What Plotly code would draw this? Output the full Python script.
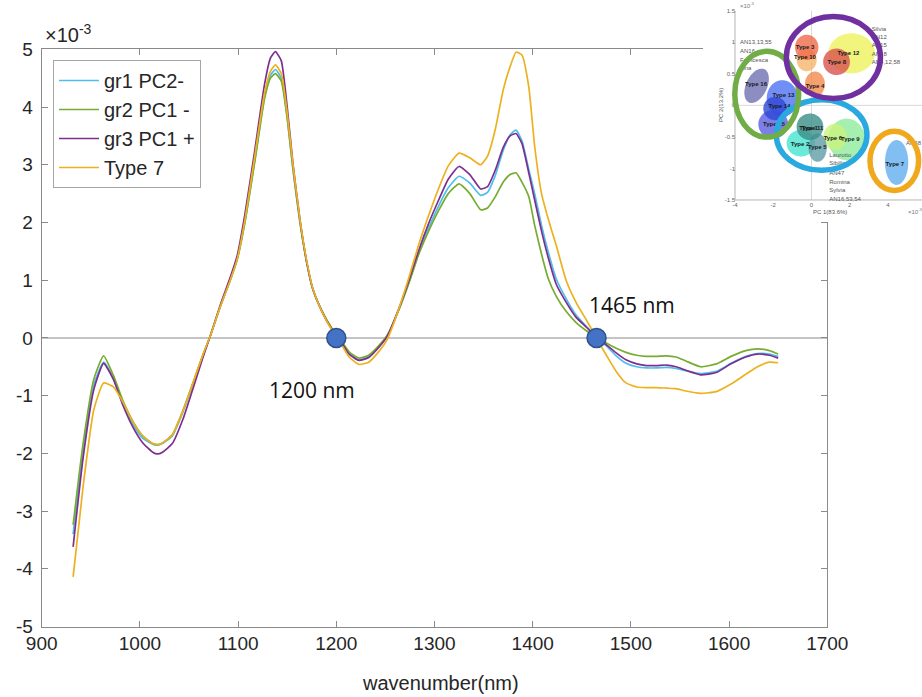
import numpy as np
import plotly.graph_objects as go

# ---------------------------------------------------------------------------
# Second-derivative NIR spectra (values in units of 10^-3)
# ---------------------------------------------------------------------------
wavelength_nm = [932, 942, 953, 963, 973, 983, 993, 1003, 1013, 1018, 1023, 1033,
                 1044, 1054, 1064, 1072, 1082, 1092, 1099, 1107, 1117, 1127, 1133,
                 1138, 1144, 1150, 1156, 1163, 1170, 1176, 1185, 1195, 1203, 1213,
                 1223, 1233, 1244, 1252, 1264, 1274, 1284, 1294, 1304, 1314, 1325,
                 1336, 1347, 1354, 1362, 1370, 1377, 1383, 1389, 1396, 1402, 1409,
                 1416, 1424, 1434, 1444, 1455, 1465, 1475, 1485, 1495, 1506, 1516,
                 1526, 1536, 1546, 1556, 1571, 1587, 1602, 1617, 1629, 1641, 1650]

gr1_pc2_neg = [-3.40, -1.98, -0.82, -0.42, -0.70, -1.15, -1.50, -1.74, -1.84, -1.86, -1.83, -1.70,
               -1.28, -0.80, -0.31, 0.05, 0.55, 1.00, 1.36, 2.02, 3.08, 4.18, 4.55,
               4.65, 4.50, 3.82, 2.92, 2.00, 1.30, 0.85, 0.48, 0.17, -0.01, -0.26,
               -0.38, -0.33, -0.14, 0.04, 0.50, 0.97, 1.48, 1.90, 2.28, 2.60, 2.80,
               2.68, 2.47, 2.52, 2.82, 3.25, 3.52, 3.60, 3.42, 2.92, 2.50, 1.95,
               1.48, 1.02, 0.68, 0.40, 0.19, 0.01, -0.14, -0.31, -0.44, -0.50, -0.52,
               -0.52, -0.51, -0.53, -0.57, -0.62, -0.58, -0.44, -0.32, -0.27, -0.28, -0.32]

gr2_pc1_neg = [-3.24, -1.85, -0.72, -0.31, -0.65, -1.10, -1.45, -1.70, -1.83, -1.85, -1.82, -1.68,
               -1.25, -0.78, -0.30, 0.05, 0.55, 1.00, 1.35, 2.00, 3.05, 4.15, 4.50,
               4.58, 4.45, 3.80, 2.90, 2.00, 1.30, 0.85, 0.48, 0.18, 0.00, -0.24,
               -0.35, -0.30, -0.12, 0.05, 0.50, 0.95, 1.45, 1.85, 2.20, 2.50, 2.67,
               2.50, 2.22, 2.25, 2.45, 2.70, 2.83, 2.86, 2.70, 2.45, 1.95, 1.45,
               1.02, 0.72, 0.46, 0.27, 0.12, 0.01, -0.09, -0.18, -0.25, -0.30, -0.32,
               -0.32, -0.31, -0.33, -0.40, -0.50, -0.45, -0.32, -0.22, -0.19, -0.22, -0.28]

gr3_pc1_pos = [-3.62, -2.10, -0.90, -0.44, -0.72, -1.18, -1.55, -1.82, -1.98, -2.01, -1.98, -1.83,
               -1.40, -0.88, -0.35, 0.05, 0.58, 1.05, 1.42, 2.15, 3.25, 4.40, 4.85,
               4.96, 4.80, 4.00, 3.00, 2.05, 1.30, 0.85, 0.47, 0.16, -0.02, -0.28,
               -0.39, -0.34, -0.15, 0.03, 0.52, 1.00, 1.52, 1.98, 2.38, 2.75, 2.97,
               2.83, 2.58, 2.62, 2.91, 3.30, 3.50, 3.54, 3.37, 2.86, 2.39, 1.85,
               1.38, 0.93, 0.62, 0.36, 0.18, 0.01, -0.12, -0.26, -0.38, -0.45, -0.48,
               -0.48, -0.47, -0.50, -0.56, -0.64, -0.60, -0.45, -0.33, -0.28, -0.30, -0.35]

type7 = [-4.14, -2.60, -1.25, -0.78, -0.85, -1.12, -1.46, -1.70, -1.83, -1.85, -1.82, -1.68,
         -1.26, -0.78, -0.30, 0.05, 0.55, 1.00, 1.36, 2.05, 3.15, 4.25, 4.62,
         4.73, 4.58, 3.90, 2.98, 2.05, 1.32, 0.86, 0.47, 0.15, -0.05, -0.33,
         -0.46, -0.42, -0.22, -0.02, 0.52, 1.05, 1.62, 2.12, 2.58, 2.98, 3.20,
         3.12, 3.00, 3.15, 3.62, 4.30, 4.70, 4.95, 4.90, 4.35, 3.32, 2.50,
         2.05, 1.60, 1.00, 0.62, 0.30, 0.00, -0.30, -0.58, -0.78, -0.85, -0.86,
         -0.86, -0.87, -0.88, -0.92, -0.96, -0.93, -0.80, -0.63, -0.50, -0.42, -0.43]

series_names = ["gr1 PC2-", "gr2 PC1 -", "gr3 PC1 +", "Type 7"]
series_values = [gr1_pc2_neg, gr2_pc1_neg, gr3_pc1_pos, type7]
series_colors = ["#4DBEEE", "#77AC30", "#7E2F8E", "#EDB120"]

# isosbestic-like crossing points
crossing_nm = [1200, 1465]
crossing_value = [0, 0]
crossing_labels = ["1200 nm", "1465 nm"]

x_tick_values = list(range(900, 1701, 100))
y_tick_values = list(range(-5, 6))

# ---------------------------------------------------------------------------
# PCA score map (inset): PC1 / PC2 scores, x10^-3
# ---------------------------------------------------------------------------
blob_names = ["Type 9", "Type 6", "Type 2", "Type 5", "Type 11", "Type 15", "Type 13",
              "Type 14", "Type 16", "Type 4", "Type 12", "Type 8", "Type 10", "Type 3", "Type 7"]
blob_cx = [1.84, 1.23, -0.56, 0.32, -0.08, -2.00, -1.53, -1.91, -2.87, 0.18, 2.10, 1.31, -0.25, -0.25, 4.45]
blob_cy = [-0.54, -0.50, -0.60, -0.67, -0.34, -0.30, 0.11, -0.05, 0.31, 0.336, 0.825, 0.69, 0.72, 0.92, -0.905]
blob_rx = [0.96, 0.61, 0.74, 0.48, 0.70, 0.78, 0.81, 0.61, 0.55, 0.52, 1.22, 0.70, 0.52, 0.61, 0.61]
blob_ry = [0.33, 0.21, 0.21, 0.225, 0.21, 0.225, 0.29, 0.185, 0.29, 0.20, 0.317, 0.21, 0.18, 0.20, 0.356]
blob_tilt = [0, 0, 0, 0, 0, 0, 0, 0, -25, 0, 0, 0, 0, 0, 0]
blob_colors = ["#8EEB9E", "#C9F27E", "#46E3CF", "#5E9FA6", "#3A8E8A", "#5D5FE2", "#4C72F2",
               "#2F47D6", "#6F70B2", "#F48A4C", "#EDF25E", "#D9534F", "#F8B56C", "#EF6A4A", "#62AFEF"]

label_text = ["Type 3", "Type 10", "Type 12", "Type 8", "Type 4", "Type 16", "Type 13", "Type 14",
              "Type 15", "Type 1", "Type 11", "Type 2", "Type 5", "Type 6", "Type 9", "Type 7"]
label_x = [-0.34, -0.34, 1.93, 1.32, 0.18, -2.90, -1.47, -1.68, -1.96, -0.15, 0.05, -0.60, 0.30, 1.12, 2.03, 4.36]
label_y = [0.92, 0.76, 0.824, 0.676, 0.296, 0.323, 0.164, -0.011, -0.296, -0.37, -0.37, -0.618, -0.670, -0.522, -0.549, -0.934]

sample_text = ["AN13,13,55", "AN16", "Francesca", "Tina",
               "Silvia", "AN12", "AN15", "AN18", "AN4,12,58",
               "Laurotto", "Sibilla", "AN47", "Romina", "Sylvia", "AN16,53,54",
               "AN48"]
sample_x = [-3.74] * 4 + [3.15] * 5 + [0.93] * 6 + [4.94]
sample_y = [0.993, 0.851, 0.718, 0.586,
            1.205, 1.078, 0.946, 0.808, 0.676,
            -0.797, -0.929, -1.077, -1.226, -1.352, -1.49,
            -0.612]

ring_cx = [0.53, -2.34, 1.145, 4.33]
ring_cy = [-0.47, 0.177, 0.758, -0.88]
ring_rx = [2.37, 1.67, 2.46, 1.27]
ring_ry = [0.56, 0.68, 0.65, 0.47]
ring_colors = ["#2AA9E0", "#70AD47", "#7030A0", "#F0A81C"]

inset_x_ticks = [-4, -2, 0, 2, 4]
inset_y_ticks = [-1.5, -1, -0.5, 0, 0.5, 1, 1.5]

# ---------------------------------------------------------------------------
W, H = 922, 697
main_xdom = [41.7 / W, 827.3 / W]
main_ydom = [1 - 626.5 / H, 1 - 49.3 / H]
ins_xdom = [703 / W, 1.0]
ins_ydom = [1 - 222 / H, 1.0]
ins_xrange = [-5.673, 5.778]
ins_yrange = [-1.849, 1.670]
ins_xscale = (ins_xdom[1] - ins_xdom[0]) * W / (ins_xrange[1] - ins_xrange[0])
ins_yscale = (ins_ydom[1] - ins_ydom[0]) * H / (ins_yrange[1] - ins_yrange[0])

AX_GRAY = "#8a8a8a"
TXT = "#262626"
FONT = "Liberation Sans, Arial, sans-serif"

fig = go.Figure()

for name, vals, col in zip(series_names, series_values, series_colors):
    fig.add_trace(go.Scatter(
        x=wavelength_nm, y=vals, name=name, mode="lines",
        line=dict(color=col, width=1.7, shape="spline", smoothing=0.5),
        xaxis="x", yaxis="y",
    ))

fig.add_trace(go.Scatter(
    x=crossing_nm, y=crossing_value, mode="markers", showlegend=False,
    marker=dict(size=19, color="#4472C4", line=dict(color="#2F528F", width=1.5)),
    xaxis="x", yaxis="y", cliponaxis=False,
))

# inset text layers
fig.add_trace(go.Scatter(
    x=sample_x, y=sample_y, text=sample_text, mode="text", textposition="middle right",
    textfont=dict(size=6, color="#555555", family=FONT), showlegend=False,
    xaxis="x2", yaxis="y2", hoverinfo="skip",
))
fig.add_trace(go.Scatter(
    x=label_x, y=label_y, text=["<b>%s</b>" % t for t in label_text], mode="text",
    textposition="middle center",
    textfont=dict(size=6, color="#1a1a1a", family=FONT), showlegend=False,
    xaxis="x2", yaxis="y2", hoverinfo="skip",
))


def ellipse_path(cx, cy, rx, ry, tilt_deg, n=60):
    """Closed SVG path for an ellipse drawn in screen space, expressed in inset data units."""
    t = np.linspace(0, 2 * np.pi, n)
    a = rx * ins_xscale
    b = ry * ins_yscale
    th = np.deg2rad(tilt_deg)
    px = a * np.cos(t) * np.cos(th) - b * np.sin(t) * np.sin(th)
    py = a * np.cos(t) * np.sin(th) + b * np.sin(t) * np.cos(th)
    xs = cx + px / ins_xscale
    ys = cy + py / ins_yscale
    pts = ["%.4f,%.4f" % (x, y) for x, y in zip(xs, ys)]
    return "M" + " L".join(pts) + " Z"


shapes = []
# inset axis frame and zero lines
shapes.append(dict(type="line", xref="x2", yref="y2", x0=-4, x1=ins_xrange[1], y0=0, y1=0,
                   line=dict(color="#d8d8d8", width=1), layer="below"))
shapes.append(dict(type="line", xref="x2", yref="y2", x0=0, x1=0, y0=-1.5, y1=1.5,
                   line=dict(color="#d8d8d8", width=1), layer="below"))
shapes.append(dict(type="line", xref="x2", yref="y2", x0=-4, x1=-4, y0=-1.5, y1=1.5,
                   line=dict(color="#b5b5b5", width=1), layer="below"))
shapes.append(dict(type="line", xref="x2", yref="y2", x0=-4, x1=ins_xrange[1], y0=-1.5, y1=-1.5,
                   line=dict(color="#b5b5b5", width=1), layer="below"))

for cx, cy, rx, ry, tl, col in zip(blob_cx, blob_cy, blob_rx, blob_ry, blob_tilt, blob_colors):
    shapes.append(dict(type="path", xref="x2", yref="y2", path=ellipse_path(cx, cy, rx, ry, tl),
                       fillcolor=col, opacity=0.8, line=dict(width=0), layer="below"))

for cx, cy, rx, ry, col in zip(ring_cx, ring_cy, ring_rx, ring_ry, ring_colors):
    shapes.append(dict(type="circle", xref="x2", yref="y2", x0=cx - rx, x1=cx + rx,
                       y0=cy - ry, y1=cy + ry, line=dict(color=col, width=5.5),
                       fillcolor="rgba(0,0,0,0)", layer="above"))

annotations = [
    dict(xref="paper", yref="paper", x=43 / W, y=1 - 33 / H, xanchor="left", yanchor="middle",
         text="×10<sup>-3</sup>", showarrow=False, font=dict(size=20, color=TXT, family=FONT)),
    dict(xref="paper", yref="paper", x=440 / W, y=1 - 683 / H, xanchor="center", yanchor="middle",
         text="wavenumber(nm)", showarrow=False, font=dict(size=20, color=TXT, family=FONT)),
    dict(xref="x", yref="y", x=crossing_nm[0], y=crossing_value[0], xshift=-24, yshift=-52,
         text=crossing_labels[0], showarrow=False, font=dict(size=21, color="#111111", family="Open Sans")),
    dict(xref="x", yref="y", x=crossing_nm[1], y=crossing_value[1], xshift=35, yshift=33,
         text=crossing_labels[1], showarrow=False, font=dict(size=21, color="#111111", family="Open Sans")),
    # inset axis captions
    dict(xref="paper", yref="paper", x=830 / W, y=1 - 212 / H, xanchor="center", yanchor="middle",
         text="PC 1(83.6%)", showarrow=False, font=dict(size=6, color="#555555", family=FONT)),
    dict(xref="paper", yref="paper", x=721 / W, y=1 - 105 / H, xanchor="center", yanchor="middle",
         text="PC 2(13.2%)", textangle=-90, showarrow=False, font=dict(size=6, color="#555555", family=FONT)),
    dict(xref="paper", yref="paper", x=738 / W, y=1 - 5 / H, xanchor="left", yanchor="middle",
         text="×10<sup>-3</sup>", showarrow=False, font=dict(size=6, color="#777777", family=FONT)),
    dict(xref="paper", yref="paper", x=906 / W, y=1 - 211 / H, xanchor="left", yanchor="middle",
         text="×10<sup>-3</sup>", showarrow=False, font=dict(size=6, color="#777777", family=FONT)),
]

fig.update_layout(
    width=W, height=H,
    margin=dict(l=0, r=0, t=0, b=0, autoexpand=False),
    paper_bgcolor="white", plot_bgcolor="white",
    font=dict(family=FONT, color=TXT),
    showlegend=True,
    legend=dict(
        x=53 / W, y=1 - 60 / H, xanchor="left", yanchor="top",
        bgcolor="white", bordercolor="#a6a6a6", borderwidth=1,
        font=dict(size=20, color=TXT, family=FONT), itemwidth=40,
        tracegroupgap=0,
    ),
    xaxis=dict(
        domain=main_xdom, range=[900, 1700], tickvals=x_tick_values,
        ticktext=[str(v) for v in x_tick_values],
        ticks="inside", ticklen=6, tickcolor=AX_GRAY, showline=True, linecolor=AX_GRAY,
        linewidth=1, mirror="ticks", showgrid=False, zeroline=False,
        tickfont=dict(size=19, color=TXT), anchor="y", automargin=False,
    ),
    yaxis=dict(
        domain=main_ydom, range=[-5, 5], tickvals=y_tick_values,
        ticktext=[str(v) for v in y_tick_values],
        ticks="inside", ticklen=6, tickcolor=AX_GRAY, showline=True, linecolor=AX_GRAY,
        linewidth=1, mirror="ticks", showgrid=False,
        zeroline=True, zerolinecolor="#c4c4c4", zerolinewidth=2,
        tickfont=dict(size=19, color=TXT), anchor="x", ticklabelstandoff=4, automargin=False,
    ),
    xaxis2=dict(
        domain=ins_xdom, range=ins_xrange, anchor="free", position=1 - 200 / H,
        tickvals=inset_x_ticks, ticktext=[str(v) for v in inset_x_ticks], ticks="",
        showline=False, showgrid=False, zeroline=False,
        tickfont=dict(size=6, color="#666666"), automargin=False,
    ),
    yaxis2=dict(
        domain=ins_ydom, range=ins_yrange, anchor="free", position=735 / W,
        tickvals=inset_y_ticks, ticktext=[("%g" % v) for v in inset_y_ticks], ticks="",
        showline=False, showgrid=False, zeroline=False,
        tickfont=dict(size=6, color="#666666"), automargin=False,
    ),
    shapes=shapes,
    annotations=annotations,
)

fig.write_html("out.html")
